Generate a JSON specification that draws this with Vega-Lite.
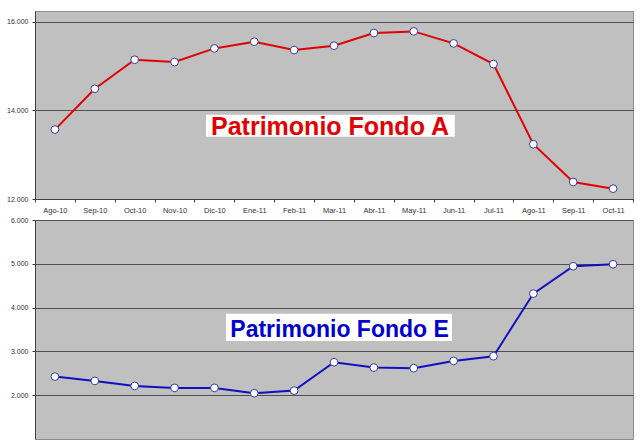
{
  "$schema": "https://vega.github.io/schema/vega-lite/v6.json",
  "autosize": {"type": "pad"},
  "padding": {"left": 0, "top": 10, "right": 8, "bottom": 4},
  "background": "white",
  "bounds": "flush",
  "spacing": 21,
  "datasets": {
    "A": [
      {"mes": "Ago-10", "valor": 13566},
      {"mes": "Sep-10", "valor": 14486},
      {"mes": "Oct-10", "valor": 15141},
      {"mes": "Nov-10", "valor": 15089},
      {"mes": "Dic-10", "valor": 15397},
      {"mes": "Ene-11", "valor": 15548},
      {"mes": "Feb-11", "valor": 15360},
      {"mes": "Mar-11", "valor": 15458},
      {"mes": "Abr-11", "valor": 15744},
      {"mes": "May-11", "valor": 15781},
      {"mes": "Jun-11", "valor": 15510},
      {"mes": "Jul-11", "valor": 15044},
      {"mes": "Ago-11", "valor": 13236},
      {"mes": "Sep-11", "valor": 12384},
      {"mes": "Oct-11", "valor": 12233}
    ],
    "E": [
      {"mes": "Ago-10", "valor": 2425},
      {"mes": "Sep-10", "valor": 2326},
      {"mes": "Oct-10", "valor": 2212},
      {"mes": "Nov-10", "valor": 2167},
      {"mes": "Dic-10", "valor": 2167},
      {"mes": "Ene-11", "valor": 2046},
      {"mes": "Feb-11", "valor": 2105},
      {"mes": "Mar-11", "valor": 2753},
      {"mes": "Abr-11", "valor": 2630},
      {"mes": "May-11", "valor": 2618},
      {"mes": "Jun-11", "valor": 2783},
      {"mes": "Jul-11", "valor": 2890},
      {"mes": "Ago-11", "valor": 4320},
      {"mes": "Sep-11", "valor": 4945},
      {"mes": "Oct-11", "valor": 4990}
    ]
  },
  "config": {
    "view": {"fill": "#C0C0C0", "stroke": "#8c8c8c", "strokeWidth": 1},
    "axis": {
      "labelFont": "Liberation Sans",
      "labelColor": "#333333",
      "domainColor": "#404040",
      "tickColor": "#404040",
      "gridColor": "#505050",
      "gridOpacity": 1,
      "gridWidth": 1,
      "tickSize": 3,
      "labelPadding": 4
    },
    "axisY": {"minExtent": 34, "maxExtent": 34}
  },
  "vconcat": [
    {
      "width": 598,
      "height": 188,
      "layer": [
        {
          "data": {"name": "A"},
          "encoding": {
            "x": {"field": "mes", "type": "nominal", "sort": null,
              "scale": {"paddingInner": 0, "paddingOuter": 0},
              "axis": {"title": null, "labelAngle": 0, "tickBand": "extent", "grid": false, "labelFontSize": 7.5}},
            "y": {"field": "valor", "type": "quantitative",
              "scale": {"domain": [12000, 16241], "nice": false, "zero": false},
              "axis": {"title": null, "values": [12000, 14000, 16000], "grid": true, "labelFontSize": 7,
                "labelExpr": "replace(format(datum.value, ','), ',', '.')"}}
          },
          "layer": [
            {"mark": {"type": "line", "color": "#E00000", "strokeWidth": 2}},
            {"mark": {"type": "point", "filled": true, "fill": "white", "stroke": "#3a3a9a", "strokeWidth": 1, "size": 60, "opacity": 1}}
          ]
        },
        {
          "data": {"values": [{}]},
          "layer": [
            {
              "mark": {"type": "rect", "color": "white"},
              "encoding": {
                "x": {"datum": 4.29, "type": "quantitative", "scale": {"domain": [0, 15], "nice": false, "zero": false}, "axis": null},
                "x2": {"datum": 10.53},
                "y": {"datum": 13899, "type": "quantitative"},
                "y2": {"datum": 13403}
              }
            },
            {
              "mark": {"type": "text", "text": "Patrimonio Fondo A", "font": "Liberation Sans", "fontWeight": "bold", "fontSize": 25, "color": "#E00000", "align": "center", "baseline": "alphabetic"},
              "encoding": {
                "x": {"datum": 7.4, "type": "quantitative"},
                "y": {"datum": 13448, "type": "quantitative"}
              }
            }
          ]
        }
      ],
      "resolve": {"scale": {"x": "independent"}, "axis": {"x": "independent"}}
    },
    {
      "width": 598,
      "height": 219,
      "layer": [
        {
          "data": {"name": "E"},
          "encoding": {
            "x": {"field": "mes", "type": "nominal", "sort": null,
              "scale": {"paddingInner": 0, "paddingOuter": 0},
              "axis": null},
            "y": {"field": "valor", "type": "quantitative",
              "scale": {"domain": [1000, 6000], "nice": false, "zero": false},
              "axis": {"title": null, "values": [2000, 3000, 4000, 5000, 6000], "grid": true, "labelFontSize": 7,
                "labelExpr": "replace(format(datum.value, ','), ',', '.')"}}
          },
          "layer": [
            {"mark": {"type": "line", "color": "#1010C0", "strokeWidth": 2}},
            {"mark": {"type": "point", "filled": true, "fill": "white", "stroke": "#3a3a9a", "strokeWidth": 1, "size": 60, "opacity": 1}}
          ]
        },
        {
          "data": {"values": [{}]},
          "layer": [
            {
              "mark": {"type": "rect", "color": "white"},
              "encoding": {
                "x": {"datum": 4.79, "type": "quantitative", "scale": {"domain": [0, 15], "nice": false, "zero": false}, "axis": null},
                "x2": {"datum": 10.46},
                "y": {"datum": 3861, "type": "quantitative"},
                "y2": {"datum": 3237}
              }
            },
            {
              "mark": {"type": "text", "text": "Patrimonio Fondo E", "font": "Liberation Sans", "fontWeight": "bold", "fontSize": 23, "color": "#0000CC", "align": "center", "baseline": "alphabetic"},
              "encoding": {
                "x": {"datum": 7.64, "type": "quantitative"},
                "y": {"datum": 3329, "type": "quantitative"}
              }
            }
          ]
        }
      ],
      "resolve": {"scale": {"x": "independent"}, "axis": {"x": "independent"}}
    }
  ]
}
